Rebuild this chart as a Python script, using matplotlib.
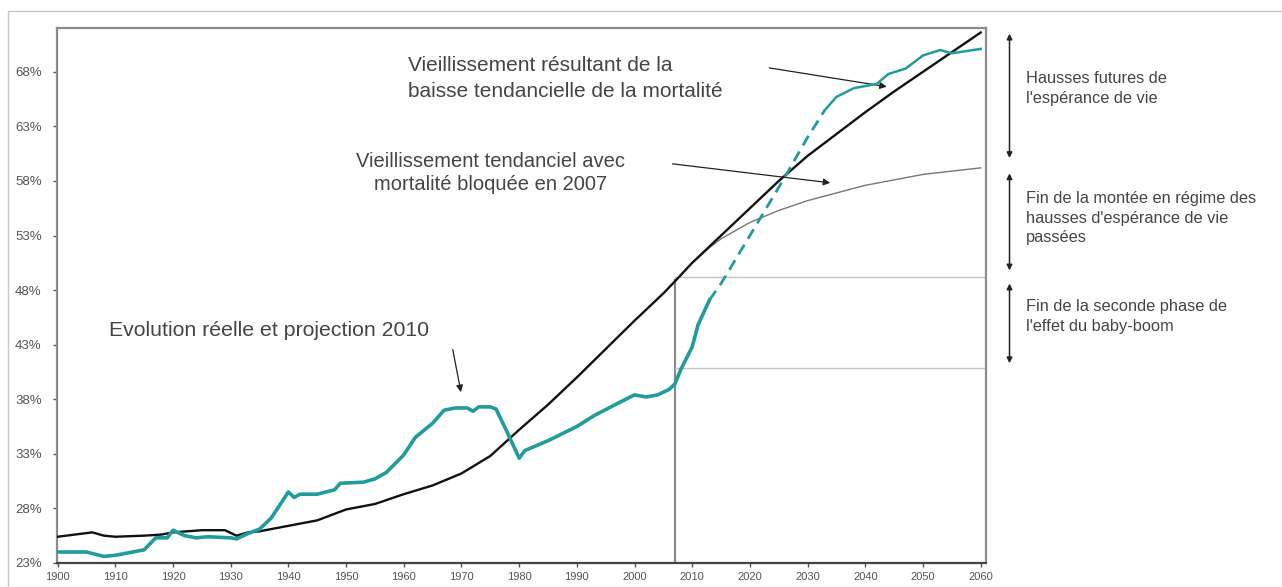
import matplotlib.pyplot as plt
from matplotlib.patches import Rectangle

plt.rcParams["font.family"] = ["Liberation Sans", "DejaVu Sans"]

# Vieillissement résultant de la baisse tendancielle de la mortalité
years_trend = [1900, 1903, 1906, 1908, 1910, 1915, 1918, 1920, 1925, 1929, 1931, 1933,
               1935, 1940, 1945, 1950, 1955, 1960, 1965, 1970, 1975, 1980, 1985,
               1990, 1995, 2000, 2005, 2007, 2010, 2015, 2020, 2025, 2030, 2035,
               2040, 2045, 2050, 2055, 2060]
trend = [25.4, 25.6, 25.8, 25.5, 25.4, 25.5, 25.6, 25.8, 26.0, 26.0, 25.5, 25.8,
         25.9, 26.4, 26.9, 27.9, 28.4, 29.3, 30.1, 31.2, 32.8, 35.2, 37.5,
         40.0, 42.6, 45.2, 47.7, 48.8, 50.5, 53.0, 55.5, 58.0, 60.3, 62.3,
         64.3, 66.2, 68.0, 69.8, 71.6]

# Vieillissement tendanciel avec mortalité bloquée en 2007
years_frozen = [2007, 2010, 2013, 2015, 2020, 2025, 2030, 2035, 2040, 2045, 2050, 2055, 2060]
frozen = [48.8, 50.5, 51.9, 52.7, 54.2, 55.3, 56.2, 56.9, 57.6, 58.1, 58.6, 58.9, 59.2]

# Evolution réelle et projection 2010
years_real = [1900, 1905, 1908, 1910, 1912, 1914, 1915, 1917, 1919, 1920, 1922, 1924,
              1926, 1930, 1931, 1933, 1935, 1937, 1938, 1940, 1941, 1942, 1945,
              1948, 1949, 1953, 1955, 1957, 1960, 1962, 1965, 1967, 1969, 1971,
              1972, 1973, 1975, 1976, 1978, 1980, 1981, 1985, 1990, 1993, 1997,
              2000, 2002, 2004, 2006, 2007, 2008, 2010, 2011, 2013]
real = [24.0, 24.0, 23.6, 23.7, 23.9, 24.1, 24.2, 25.3, 25.3, 26.0, 25.5, 25.3,
        25.4, 25.3, 25.2, 25.7, 26.1, 27.1, 27.9, 29.5, 29.0, 29.3, 29.3,
        29.7, 30.3, 30.4, 30.7, 31.3, 32.9, 34.5, 35.8, 37.0, 37.2, 37.2,
        36.9, 37.3, 37.3, 37.1, 34.9, 32.6, 33.3, 34.2, 35.5, 36.5, 37.6,
        38.4, 38.2, 38.4, 38.9, 39.4, 40.7, 42.8, 44.8, 47.1]
years_proj = [2013, 2015, 2020, 2026, 2030, 2033]
proj = [47.1, 48.6, 53.0, 58.3, 62.0, 64.5]
years_late = [2033, 2035, 2038, 2042, 2044, 2047, 2050, 2053, 2055, 2060]
late = [64.5, 65.7, 66.5, 66.9, 67.8, 68.3, 69.5, 70.0, 69.7, 70.1]

y_ticks = [23, 28, 33, 38, 43, 48, 53, 58, 63, 68]
x_ticks = list(range(1900, 2061, 10))

TEAL = "#1f9c9b"
TXT = "#454545"

fig = plt.figure(figsize=(12.82, 5.87), dpi=100)
ax = fig.add_axes([0.0445, 0.041, 0.7245, 0.911])

# cadre extérieur gris clair
fig.patches.append(Rectangle((8 / 1282, -0.1), 1.1, 1 - 11 / 587 + 0.1,
                             transform=fig.transFigure, fill=False,
                             edgecolor="#c8c8c8", linewidth=1))

# lignes de repère autour de 2007
ax.plot([2007, 2007], [23, 48.9], color="#8a8a8a", linewidth=1.6, zorder=1)
ax.plot([2007, 2060.9], [49.2, 49.2], color="#c4c4c4", linewidth=1, zorder=1)
ax.plot([2007, 2060.9], [40.9, 40.9], color="#c4c4c4", linewidth=1, zorder=1)

ax.plot(years_frozen, frozen, color="#777777", linewidth=1.0, zorder=2)
ax.plot(years_trend, trend, color="#111111", linewidth=1.7, zorder=3)
ax.plot(years_real, real, color=TEAL, linewidth=2.6, zorder=4)
ax.plot(years_proj, proj, color=TEAL, linewidth=2.0, linestyle=(0, (4, 2.5)), zorder=4)
ax.plot(years_late, late, color=TEAL, linewidth=1.8, zorder=4)

ax.set_xlim(1899.9, 2060.9)
ax.set_ylim(23, 72)
ax.set_xticks(x_ticks)
ax.set_xticklabels([str(x) for x in x_ticks])
ax.set_yticks(y_ticks)
ax.set_yticklabels([f"{v}%" for v in y_ticks])
ax.tick_params(axis="both", colors="#555555", length=3, width=1)
ax.tick_params(axis="x", labelsize=8)
ax.tick_params(axis="y", labelsize=9.5, pad=8)
for side in ["left", "right", "top"]:
    ax.spines[side].set_color("#8c8c8c")
    ax.spines[side].set_linewidth(1.6)
ax.spines["bottom"].set_color("#444444")
ax.spines["bottom"].set_linewidth(1.6)

arrow = dict(arrowstyle="-|>", color="#222222", linewidth=0.9, mutation_scale=10)

ax.text(1960.7, 67.4, "Vieillissement résultant de la\nbaisse tendancielle de la mortalité",
        fontsize=15, color=TXT, ha="left", va="center", linespacing=1.45)
ax.annotate("", xy=(2044.2, 66.6), xytext=(2022.9, 68.4), arrowprops=arrow)

ax.text(1975.0, 58.7, "Vieillissement tendanciel avec\nmortalité bloquée en 2007",
        fontsize=14.5, color=TXT, ha="center", va="center", linespacing=1.25)
ax.annotate("", xy=(2034.4, 57.8), xytext=(2006.1, 59.6), arrowprops=arrow)

ax.text(1908.9, 44.3, "Evolution réelle et projection 2010",
        fontsize=15.3, color=TXT, ha="left", va="center")
ax.annotate("", xy=(1970.0, 38.4), xytext=(1968.4, 42.8), arrowprops=arrow)

# accolades à droite
darrow = dict(arrowstyle="<|-|>", color="#222222", linewidth=1.1, mutation_scale=8,
              shrinkA=0, shrinkB=0)
x_br = 2065.0
for top, bottom in [(71.5, 60.1), (58.7, 49.8), (48.6, 41.3)]:
    ax.annotate("", xy=(x_br, top), xytext=(x_br, bottom), arrowprops=darrow,
                annotation_clip=False)

x_txt = 2067.8
ax.text(x_txt, 66.5, "Hausses futures de\nl'espérance de vie",
        fontsize=11.8, color=TXT, ha="left", va="center", linespacing=1.4, clip_on=False)
ax.text(x_txt, 54.6, "Fin de la montée en régime des\nhausses d'espérance de vie\npassées",
        fontsize=11.8, color=TXT, ha="left", va="center", linespacing=1.4, clip_on=False)
ax.text(x_txt, 45.6, "Fin de la seconde phase de\nl'effet du baby-boom",
        fontsize=11.8, color=TXT, ha="left", va="center", linespacing=1.4, clip_on=False)

fig.savefig("out.png", dpi=100)
